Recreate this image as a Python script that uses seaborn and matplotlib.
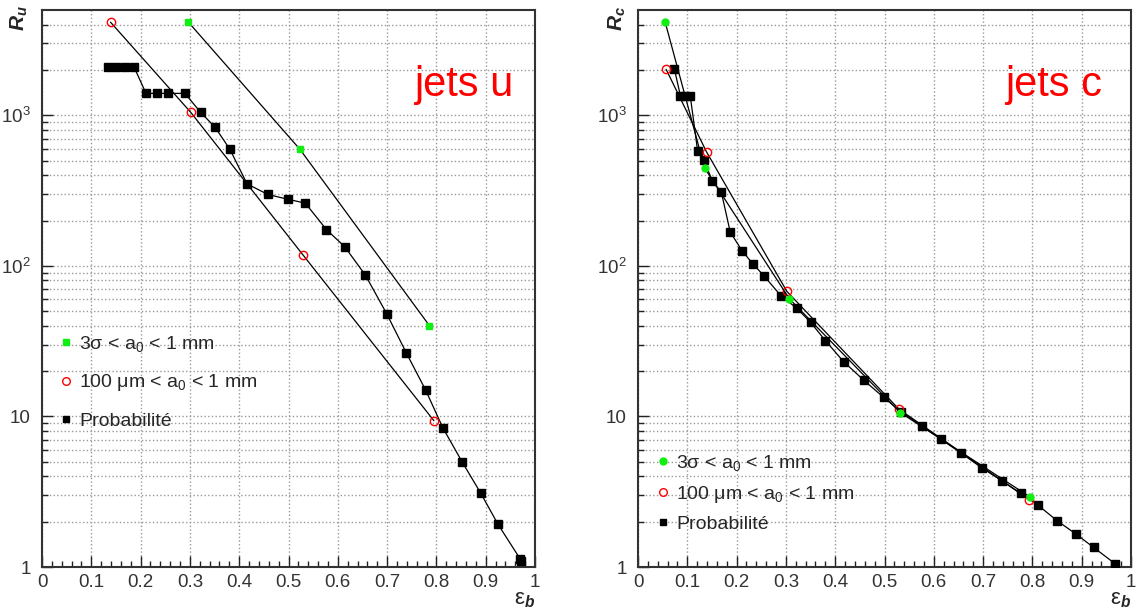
import matplotlib
matplotlib.use("Agg")
import matplotlib.pyplot as plt
from matplotlib.lines import Line2D
from matplotlib.ticker import FixedLocator, NullFormatter, MultipleLocator
import seaborn as sns
import numpy as np

# ---------------- data ----------------
u_green_x = [0.297, 0.523, 0.786]
u_green_y = [4150, 595, 40]
u_red_x = [0.139, 0.302, 0.529, 0.795]
u_red_y = [4150, 1043, 118.6, 9.36]
u_prob_x = [0.133, 0.151, 0.168, 0.187, 0.211, 0.233, 0.256, 0.290, 0.322, 0.351,
            0.381, 0.416, 0.458, 0.498, 0.534, 0.577, 0.614, 0.656, 0.699, 0.739,
            0.778, 0.813, 0.852, 0.890, 0.925, 0.970, 0.972]
u_prob_y = [2080, 2080, 2080, 2080, 1397, 1397, 1397, 1397, 1043, 833,
            595, 350, 298, 277, 261, 174, 134, 86.7, 48.2, 26.4,
            15.0, 8.41, 5.0, 3.09, 1.92, 1.13, 1.09]

c_green_x = [0.055, 0.135, 0.307, 0.532, 0.795]
c_green_y = [4170, 447, 60.4, 10.6, 2.92]
c_red_x = [0.057, 0.139, 0.302, 0.529, 0.794]
c_red_y = [2018, 571, 67.6, 11.2, 2.79]
c_prob_x = [0.074, 0.086, 0.096, 0.106, 0.121, 0.134, 0.151, 0.169, 0.187, 0.211,
            0.233, 0.256, 0.290, 0.322, 0.350, 0.380, 0.417, 0.458, 0.498, 0.534,
            0.576, 0.614, 0.656, 0.698, 0.739, 0.777, 0.811, 0.850, 0.889, 0.924, 0.968]
c_prob_y = [2018, 1346, 1346, 1346, 577, 503, 364, 309, 168, 126,
            103, 85.5, 63.2, 52.3, 42.2, 31.9, 23.1, 17.4, 13.4, 10.7,
            8.63, 7.08, 5.68, 4.54, 3.72, 3.08, 2.58, 2.03, 1.65, 1.35, 1.05]

x_ticks = [0, 0.1, 0.2, 0.3, 0.4, 0.5, 0.6, 0.7, 0.8, 0.9, 1]
x_ticklabels = ["0", "0.1", "0.2", "0.3", "0.4", "0.5", "0.6", "0.7", "0.8", "0.9", "1"]
y_ticks = [1, 10, 100, 1000]
y_ticklabels = ["1", "10", r"$\mathregular{10^{2}}$", r"$\mathregular{10^{3}}$"]

label_green = r"3σ < a$\mathregular{_0}$ < 1 mm"
label_red = r"100 μm < a$\mathregular{_0}$ < 1 mm"
label_prob = "Probabilité"

# ---------------- style ----------------
sns.set_style("ticks")
plt.rcParams["font.family"] = ["Liberation Sans", "DejaVu Sans"]
plt.rcParams["mathtext.fontset"] = "custom"
plt.rcParams["mathtext.rm"] = "Liberation Sans"
plt.rcParams["mathtext.it"] = "Liberation Sans:italic"
plt.rcParams["mathtext.bf"] = "Liberation Sans:bold"
plt.rcParams["mathtext.bfit"] = "Liberation Sans:bold:italic"

GREEN = "#11ee11"

fig = plt.figure(figsize=(11.37, 6.09), dpi=100)
W, H = 1137, 609
AXW = 493
ax_u = fig.add_axes([42 / W, 1 - 567 / H, AXW / W, (567 - 10) / H])
ax_c = fig.add_axes([638 / W, 1 - 567 / H, AXW / W, (567 - 10) / H])


def draw_series(ax, x, y, marker, mfc, mec, ms, mew=1.0):
    sns.lineplot(x=x, y=y, ax=ax, sort=False, estimator=None, color="black",
                 linewidth=0.9, marker=marker, markersize=ms,
                 markerfacecolor=mfc, markeredgecolor=mec, markeredgewidth=mew,
                 zorder=3)


def style_axes(ax):
    ax.set_yscale("log")
    ax.set_xlim(0, 1)
    ax.set_ylim(1, 5000)
    ax.xaxis.set_major_locator(FixedLocator(x_ticks))
    ax.set_xticklabels(x_ticklabels)
    ax.xaxis.set_minor_locator(MultipleLocator(0.02))
    ax.yaxis.set_major_locator(FixedLocator(y_ticks))
    ax.set_yticklabels(y_ticklabels)
    minors = [m * 10 ** d for d in range(0, 4) for m in range(2, 10) if m * 10 ** d < 5000]
    ax.yaxis.set_minor_locator(FixedLocator(minors))
    ax.yaxis.set_minor_formatter(NullFormatter())
    ax.tick_params(axis="both", which="major", direction="in", length=8, width=1,
                   labelsize=13.5, colors="#222222", labelcolor="#333333", pad=5)
    ax.tick_params(axis="both", which="minor", direction="in", length=4, width=1,
                   colors="#222222")
    ax.tick_params(axis="y", which="major", pad=8)
    ax.grid(True, which="major", axis="x", color="#999999", linestyle=":", linewidth=1)
    ax.grid(True, which="both", axis="y", color="#999999", linestyle=":", linewidth=1)
    for s in ax.spines.values():
        s.set_visible(True)
        s.set_color("#333333")
        s.set_linewidth(1.5)
    ax.set_xlabel("")
    ax.set_ylabel("")


# left panel: jets u
draw_series(ax_u, u_prob_x, u_prob_y, "s", "black", "black", 5.5)
draw_series(ax_u, u_red_x, u_red_y, "o", "none", "red", 6, 1.0)
draw_series(ax_u, u_green_x, u_green_y, "s", GREEN, GREEN, 5)
style_axes(ax_u)

# right panel: jets c
draw_series(ax_c, c_prob_x, c_prob_y, "s", "black", "black", 5.5)
draw_series(ax_c, c_red_x, c_red_y, "o", "none", "red", 6, 1.0)
draw_series(ax_c, c_green_x, c_green_y, "o", GREEN, GREEN, 5)
style_axes(ax_c)

# titles inside
ax_u.text(0.957, 0.865, "jets u", transform=ax_u.transAxes, color="red",
          fontsize=30, ha="right", va="center")
ax_c.text(0.941, 0.865, "jets c", transform=ax_c.transAxes, color="red",
          fontsize=30, ha="right", va="center")

# axis labels (ROOT-like positions)
fig.text(19 / W, 1 - 18 / H, r"$\mathbfit{R}_{\mathbfit{u}}$", rotation=90,
         fontsize=15, ha="center", va="center")
fig.text(617 / W, 1 - 18 / H, r"$\mathbfit{R}_{\mathbfit{c}}$", rotation=90,
         fontsize=15, ha="center", va="center")
fig.text(525 / W, 1 - 600 / H, r"ε$_{\mathbfit{b}}$", fontsize=16,
         ha="center", va="center")
fig.text(1121 / W, 1 - 600 / H, r"ε$_{\mathbfit{b}}$", fontsize=16,
         ha="center", va="center")

# legends
def make_handles(green_marker):
    return [
        Line2D([], [], linestyle="none", marker=green_marker, markersize=5,
               markerfacecolor=GREEN, markeredgecolor=GREEN),
        Line2D([], [], linestyle="none", marker="o", markersize=5.5,
               markerfacecolor="none", markeredgecolor="red"),
        Line2D([], [], linestyle="none", marker="s", markersize=5,
               markerfacecolor="black", markeredgecolor="black"),
    ]

labels = [label_green, label_red, label_prob]
leg_u = ax_u.legend(make_handles("s"), labels, loc="upper left",
                    bbox_to_anchor=(18 / AXW, (567 - 334) / 557), frameon=False,
                    fontsize=14, handlelength=0.6, handletextpad=0.4,
                    labelspacing=0.95, borderpad=0, borderaxespad=0)
leg_c = ax_c.legend(make_handles("o"), labels, loc="upper left",
                    bbox_to_anchor=(19 / AXW, (567 - 453) / 557), frameon=False,
                    fontsize=14, handlelength=0.6, handletextpad=0.4,
                    labelspacing=0.55, borderpad=0, borderaxespad=0)

fig.savefig("out.png", dpi=100)
